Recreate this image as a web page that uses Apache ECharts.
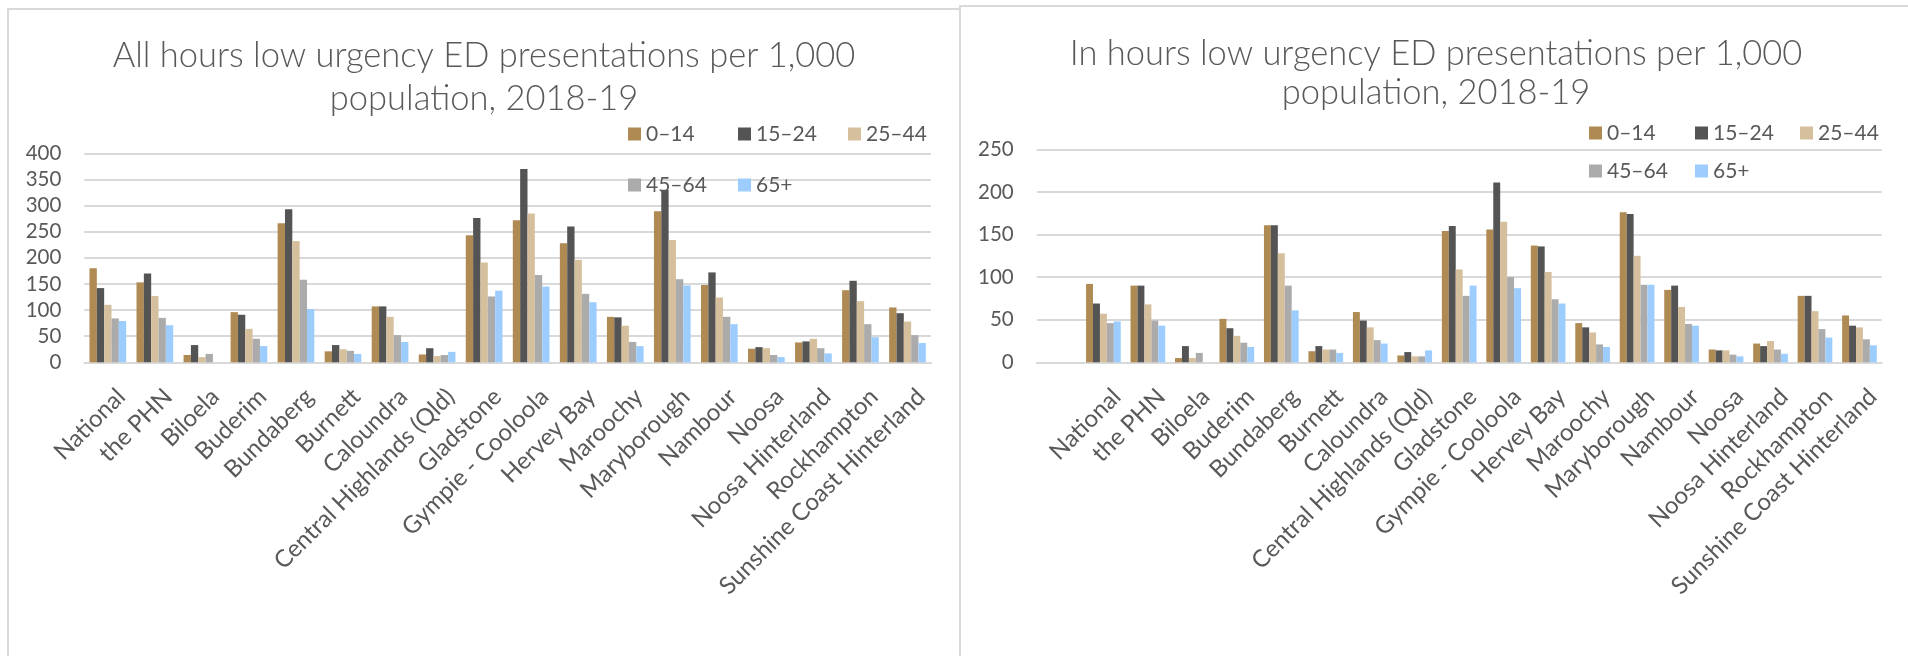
<!DOCTYPE html>
<html>
<head>
<meta charset="utf-8">
<script src="https://cdn.jsdelivr.net/npm/echarts@6/dist/echarts.min.js"></script>
<style>
html,body{margin:0;padding:0;background:#fff;}
#c{width:1908px;height:656px;}
</style>
</head>
<body>
<div id="c"></div>
<script>
// ---- data ----
const categories = ['National','the PHN','Biloela','Buderim','Bundaberg','Burnett','Caloundra','Central Highlands (Qld)','Gladstone','Gympie - Cooloola','Hervey Bay','Maroochy','Maryborough','Nambour','Noosa','Noosa Hinterland','Rockhampton','Sunshine Coast Hinterland'];
const seriesNames = ['0–14','15–24','25–44','45–64','65+'];

// All hours (left chart)
const all_0_14  = [180,153,14,96,266,21,107,15,243,272,228,87,289,148,26,38,138,105];
const all_15_24 = [142,170,33,91,293,33,107,27,276,370,260,86,330,172,29,40,156,94];
const all_25_44 = [110,127,10,64,232,25,87,12,191,285,196,70,234,124,27,45,117,78];
const all_45_64 = [84,85,16,45,158,22,52,14,126,167,131,39,159,87,14,27,73,52];
const all_65    = [79,71,null,31,102,16,39,20,137,145,115,31,147,73,10,17,48,37];

// In hours (right chart)
const in_0_14  = [92,90,5,51,161,13,59,8,154,156,137,46,176,85,15,22,78,55];
const in_15_24 = [69,90,19,40,161,19,49,12,160,211,136,41,174,90,14,19,78,43];
const in_25_44 = [57,68,5,31,128,15,41,7,109,165,106,35,125,65,14,25,60,41];
const in_45_64 = [46,49,11,23,90,15,26,7,78,100,74,21,91,45,9,15,39,27];
const in_65    = [48,43,null,18,61,11,22,14,90,87,69,18,91,43,7,10,29,20];

const leftTitle = 'All hours low urgency ED presentations per 1,000\npopulation, 2018-19';
const rightTitle = 'In hours low urgency ED presentations per 1,000\npopulation, 2018-19';
const leftYTicks = {min:0, max:400, interval:50};
const rightYTicks = {min:0, max:250, interval:50};

// ---- styles ----
const colors = ['#AF8A52','#545454','#D6BF9D','#ABABAB','#9DCDFF'];
const FONT = 'Lato';
const TXT = '#595959';
const GRIDC = '#D9D9D9';

const rightCategories = [''].concat(categories);
const pad = arr => [null].concat(arr);
const leftData = [all_0_14, all_15_24, all_25_44, all_45_64, all_65];
const rightData = [in_0_14, in_15_24, in_25_44, in_45_64, in_65].map(pad);

const chart = echarts.init(document.getElementById('c'), null, {renderer:'canvas'});

function xAxis(gi, cats){
  return {type:'category', gridIndex:gi, data:cats,
    axisLine:{lineStyle:{color:GRIDC, width:2}}, axisTick:{show:false},
    axisLabel:{rotate:45, interval:0, margin:17, verticalAlign:'top', padding:[7,0,0,0], color:TXT, fontSize:24, fontFamily:FONT}};
}
function yAxis(gi, t){
  return {type:'value', gridIndex:gi, min:t.min, max:t.max, interval:t.interval,
    axisLine:{show:false}, axisTick:{show:false},
    splitLine:{lineStyle:{color:GRIDC, width:2}},
    axisLabel:{margin:23, color:TXT, fontSize:20.5, fontFamily:FONT}};
}
const series = [];
seriesNames.forEach((n,i)=>{
  series.push({name:n, type:'bar', xAxisIndex:0, yAxisIndex:0, data:leftData[i],
    itemStyle:{color:colors[i]}, barGap:'0%', barCategoryGap:'22%', animation:false});
});
seriesNames.forEach((n,i)=>{
  series.push({name:n, type:'bar', xAxisIndex:1, yAxisIndex:1, data:rightData[i],
    itemStyle:{color:colors[i]}, barGap:'0%', barCategoryGap:'22%', animation:false});
});

function legendItem(name, x, yc){
  return {data:[name], left:x, top:yc-10.5, icon:'rect', itemWidth:13, itemHeight:13,
    padding:0, itemGap:0, selectedMode:false,
    textStyle:{color:TXT, fontSize:21, fontFamily:FONT}};
}
const legends = [
  legendItem(seriesNames[0],628,134), legendItem(seriesNames[1],738,134), legendItem(seriesNames[2],848,134),
  legendItem(seriesNames[3],628,185), legendItem(seriesNames[4],738,185),
  legendItem(seriesNames[0],1589,133), legendItem(seriesNames[1],1695,133), legendItem(seriesNames[2],1800,133),
  legendItem(seriesNames[3],1589,171), legendItem(seriesNames[4],1695,171)
];

chart.setOption({
  animation:false,
  backgroundColor:'#fff',
  title:[
    {text:leftTitle, left:484, top:34, textAlign:'center', padding:0,
      textStyle:{fontFamily:FONT, fontWeight:300, fontSize:34.5, lineHeight:43, color:TXT}},
    {text:rightTitle, left:1436, top:34, textAlign:'center', padding:0,
      textStyle:{fontFamily:FONT, fontWeight:300, fontSize:34.5, lineHeight:39, color:TXT}}
  ],
  legend:legends,
  grid:[
    {left:84.3, top:153.3, width:846.7, height:209, containLabel:false},
    {left:1036.7, top:149.3, width:845, height:213, containLabel:false}
  ],
  xAxis:[xAxis(0, categories), xAxis(1, rightCategories)],
  yAxis:[yAxis(0, leftYTicks), yAxis(1, rightYTicks)],
  series:series,
  graphic:[
    {type:'polyline', shape:{points:[[8,700],[8,9],[960,9]]}, style:{stroke:GRIDC, lineWidth:2, fill:null}, silent:true},
    {type:'polyline', shape:{points:[[960,700],[960,6],[1908,6]]}, style:{stroke:GRIDC, lineWidth:2, fill:null}, silent:true}
  ]
});
</script>
</body>
</html>
